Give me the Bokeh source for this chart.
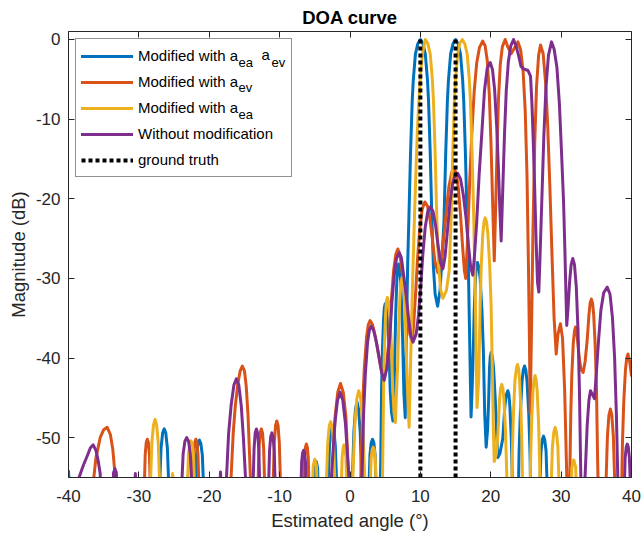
from bokeh.plotting import figure
from bokeh.models import Range1d, LinearAxis, FixedTicker, Legend, LegendItem, Label
from bokeh.core.properties import value
from bokeh.embed import file_html
from bokeh.resources import INLINE

# ---------------- data ----------------
x_ticks = [-40, -30, -20, -10, 0, 10, 20, 30, 40]
y_ticks = [-50, -40, -30, -20, -10, 0]
x_limits = (-40, 40)
y_limits = (-55, 1)

gt_angles = [10, 15]          # ground truth DOAs (deg)
gt_top = [0, 0]               # dB
gt_bottom = [-55, -55]

# (angle deg, magnitude dB) samples of each curve
mod_both = [
    (-40, -54.2), (-39.8, -57), (-39.6, -62),
    (-27.3, -62), (-26.85, -51.3), (-26.62, -49.4), (-26.4, -48.9), (-26.18, -49.4), (-25.95, -51.3), (-25.5, -62),
    (-22.25, -62), (-21.82, -52.2), (-21.6, -50.7), (-21.4, -50.3), (-21.2, -50.7), (-20.98, -52.2), (-20.55, -62),
    (-5.25, -62), (-5.0, -53.8), (-4.8, -53.0), (-4.6, -53.8), (-4.35, -62),
    (-3.35, -62), (-2.92, -51.1), (-2.71, -49.1), (-2.5, -48.5), (-2.29, -49.1), (-2.08, -51.1), (-1.65, -62),
    (0.1, -62), (0.55, -49.3), (0.78, -46.4), (1.0, -45.5), (1.22, -46.4), (1.45, -49.3), (1.9, -62),
    (2.48, -62), (2.84, -52.1), (3.02, -50.6), (3.2, -50.2), (3.38, -50.6), (3.56, -52.1), (3.92, -62),
    (4.2, -62), (4.36, -53.2), (4.48, -44.2), (4.6, -39.2), (4.76, -35.2), (4.88, -33.7), (5.0, -33.2),
    (5.17, -33.7), (5.33, -35.2), (5.55, -39.2), (5.72, -44.2), (5.9, -46.8), (6.1, -47.9),
    (6.25, -44.5), (6.38, -39.2), (6.5, -34.2), (6.66, -30.2), (6.78, -28.7), (6.9, -28.2),
    (7.04, -28.7), (7.19, -30.2), (7.38, -34.2), (7.52, -39.2), (7.66, -44.5), (7.85, -47.5),
    (8.0, -38), (8.2, -28), (8.36, -22.7), (8.6, -14.3), (8.84, -7.7), (9.0, -5.0), (9.3, -1.8), (9.65, -0.5), (10.0, 0),
    (10.35, -0.5), (10.7, -1.8), (11.0, -5.0), (11.16, -7.7), (11.4, -14.3), (11.64, -22.7), (11.85, -28.5), (12.1, -32),
    (12.45, -33.5), (12.8, -31.5), (13.1, -27), (13.36, -22.7), (13.6, -14.3), (13.84, -7.7), (14.0, -5.0), (14.3, -1.8),
    (14.65, -0.5), (15.0, 0), (15.35, -0.5), (15.7, -1.8), (16.0, -5.0), (16.16, -7.7), (16.4, -14.3), (16.64, -22.7),
    (16.85, -30), (17.05, -40), (17.2, -47.4),
    (17.35, -44), (17.52, -39), (17.65, -34), (17.83, -30), (17.97, -28.5), (18.1, -28), (18.3, -28.5), (18.49, -30),
    (18.75, -34), (18.95, -39), (19.14, -47), (19.35, -51.2),
    (19.55, -49), (19.7, -45.3), (19.82, -41.3), (19.93, -39.8), (20.05, -39.3), (20.22, -39.8), (20.4, -41.3),
    (20.65, -45.3), (20.85, -49.5), (21.0, -52.5),
    (21.3, -52), (21.71, -50.1), (22.0, -46.1), (22.21, -44.6), (22.43, -44.1), (22.58, -44.6), (22.72, -46.1),
    (22.92, -50.1), (23.06, -55.1), (23.2, -62),
    (23.6, -62), (23.84, -61), (24.02, -52), (24.2, -47), (24.44, -43), (24.62, -41.5), (24.8, -41), (24.98, -41.5),
    (25.16, -43), (25.4, -47), (25.58, -52), (25.76, -61), (26.0, -62),
    (26.78, -62), (27.14, -51.7), (27.32, -50.3), (27.5, -49.8), (27.68, -50.3), (27.86, -51.7), (28.22, -62),
    (40, -62),
]

mod_ev = [
    (-40, -62),
    (-36.7, -62), (-36.4, -55), (-36.1, -52.5), (-35.85, -51.5), (-35.5, -50), (-35.0, -49), (-34.5, -48.7),
    (-34.05, -49.6), (-33.7, -51.5), (-33.45, -54), (-33.2, -62),
    (-29.4, -62), (-29.1, -52.1), (-28.95, -50.6), (-28.8, -50.2), (-28.65, -50.6), (-28.5, -52.1), (-28.2, -62),
    (-22.5, -62), (-22.2, -52.1), (-22.05, -50.6), (-21.9, -50.2), (-21.75, -50.6), (-21.6, -52.1), (-21.3, -62),
    (-17.1, -62), (-16.9, -55), (-16.6, -49.5), (-16.3, -46), (-15.95, -43.3), (-15.6, -41.6), (-15.3, -41.0),
    (-15.0, -41.6), (-14.75, -43.5), (-14.5, -47), (-14.3, -51.5), (-14.15, -55), (-14.0, -62),
    (-13.26, -62), (-12.93, -51.3), (-12.77, -49.4), (-12.6, -48.9), (-12.43, -49.4), (-12.27, -51.3), (-11.94, -62),
    (-11.12, -62), (-10.76, -50.7), (-10.58, -48.5), (-10.4, -47.9), (-10.22, -48.5), (-10.04, -50.7), (-9.68, -62),
    (-6.74, -62), (-6.47, -52.5), (-6.33, -51.2), (-6.2, -50.8), (-6.07, -51.2), (-5.93, -52.5), (-5.66, -62),
    (-2.9, -62), (-2.5, -55), (-2.13, -47.5), (-1.74, -44.3), (-1.35, -43.2), (-0.96, -44.3), (-0.57, -47.5),
    (-0.2, -55), (0.1, -62),
    (1.2, -62), (1.53, -55.3), (1.78, -46.3), (2.03, -41.3), (2.36, -37.3), (2.6, -35.8), (2.85, -35.3),
    (3.2, -35.8), (3.6, -37.3), (4.0, -39.3), (4.4, -41.3), (4.8, -42.7),
    (5.2, -41), (5.6, -37), (5.9, -32.5), (6.2, -29), (6.5, -27), (6.8, -26.3), (7.1, -27), (7.45, -29.5),
    (7.8, -32), (8.2, -35), (8.5, -37), (8.85, -38),
    (9.1, -35), (9.35, -31.5), (9.6, -27.5), (9.9, -24), (10.25, -21.3), (10.63, -20.4), (11.0, -20.9),
    (11.35, -22.5), (11.7, -25), (12.05, -27.8), (12.5, -29.3),
    (12.9, -28), (13.3, -25), (13.7, -21.5), (14.05, -18.5), (14.45, -16.7), (14.8, -16.2), (15.1, -16.8),
    (15.4, -18.7), (15.7, -22), (16.0, -26), (16.25, -29), (16.45, -30),
    (16.7, -25), (17.0, -18), (17.3, -12), (17.65, -6.5), (18.0, -3), (18.4, -1), (18.85, -0.2), (19.2, -0.8),
    (19.5, -2.6), (19.8, -7), (20.05, -13.5), (20.3, -21.5), (20.5, -27.8),
    (20.7, -21), (20.9, -13.5), (21.1, -7.5), (21.35, -3.2), (21.65, -0.9), (22.05, 0), (22.45, -1.0),
    (22.9, -1.8), (23.35, -1.1), (23.85, -0.3), (24.25, -1.3), (24.6, -4), (24.9, -9), (25.15, -17),
    (25.35, -28), (25.5, -38), (25.6, -47),
    (25.8, -36), (26.0, -24), (26.25, -13), (26.5, -6), (26.8, -2), (27.07, -0.7), (27.45, -1.8), (27.8, -5.5),
    (28.1, -11), (28.4, -18.5), (28.7, -27), (29.0, -35), (29.3, -39.5),
    (29.55, -37), (29.9, -35.7), (30.2, -37.5), (30.5, -44), (30.75, -53), (31.0, -62),
    (31.21, -56.1), (31.37, -47.1), (31.52, -42.1), (31.73, -38.1), (31.9, -36.6), (32.05, -36.1), (32.2, -36.6),
    (32.37, -38.1), (32.58, -40), (32.8, -41.3), (33.13, -41.8),
    (33.4, -40.5), (33.7, -37.8), (33.95, -34.6), (34.12, -33.1), (34.3, -32.6), (34.47, -33.1), (34.63, -34.6),
    (34.85, -38.6), (35.02, -43.6), (35.18, -52.6), (35.4, -62),
    (36.16, -62), (36.58, -49.8), (36.79, -47.2), (37.0, -46.4), (37.21, -47.2), (37.42, -49.8), (37.84, -62),
    (38.3, -62), (38.54, -59), (38.72, -50.5), (38.9, -45.5), (39.14, -41.5), (39.32, -40), (39.5, -39.5),
    (39.75, -40.5), (40.0, -42.2),
]

mod_ea = [
    (-40, -62),
    (-28.6, -62), (-28.15, -50.6), (-27.92, -48.4), (-27.7, -47.7), (-27.48, -48.4), (-27.25, -50.6), (-26.8, -62),
    (-25.45, -62), (-25.2, -54.5), (-24.95, -62),
    (-23.32, -62), (-22.96, -52.2), (-22.78, -50.8), (-22.6, -50.4), (-22.42, -50.8), (-22.24, -52.2), (-21.88, -62),
    (-5.48, -62), (-5.24, -53.6), (-5.0, -52.7), (-4.76, -53.6), (-4.52, -62),
    (-3.6, -62), (-3.17, -50.8), (-2.96, -48.6), (-2.75, -48.0), (-2.54, -48.6), (-2.33, -50.8), (-1.9, -62),
    (-1.4, -62), (-1.12, -52.5), (-0.98, -51.3), (-0.85, -50.9), (-0.72, -51.3), (-0.58, -52.5), (-0.3, -62),
    (0.1, -62), (0.68, -48.5), (0.97, -45.1), (1.25, -44.1), (1.53, -45.1), (1.82, -48.5), (2.4, -62),
    (2.7, -62), (3.0, -52.7), (3.15, -51.5), (3.3, -51.2), (3.45, -51.5), (3.6, -52.7), (3.9, -62),
    (4.5, -62), (4.66, -52.4), (4.78, -43.4), (4.9, -38.4), (5.06, -34.4), (5.18, -32.9), (5.3, -32.4),
    (5.47, -32.9), (5.65, -34.4), (5.88, -38.4), (6.05, -43.4), (6.25, -46.8), (6.45, -48.1),
    (6.6, -44.5), (6.78, -40.9), (6.93, -35.9), (7.12, -31.9), (7.26, -30.4), (7.4, -29.9), (7.55, -30.4),
    (7.7, -31.9), (7.9, -35.9), (8.05, -40.9), (8.22, -45), (8.4, -48.7),
    (8.6, -41), (8.85, -32), (9.1, -24), (9.35, -17), (9.57, -11.5), (9.8, -7.7), (10.05, -4), (10.35, -1.5),
    (10.7, 0), (11.05, -0.5), (11.4, -1.8), (11.7, -5), (11.86, -7.7), (12.1, -14.3), (12.34, -22.7),
    (12.6, -28.5), (12.9, -31.5), (13.2, -32.5), (13.7, -31.5), (14.1, -29), (14.36, -22.7), (14.6, -14.3),
    (14.84, -7.7), (15.0, -5), (15.3, -1.8), (15.6, -0.5), (15.95, 0), (16.3, -0.5), (16.65, -1.8), (16.95, -5),
    (17.11, -7.7), (17.35, -14.3), (17.59, -22.7), (17.8, -32), (17.95, -41), (18.05, -46.2),
    (18.3, -42.4), (18.49, -33.4), (18.65, -28.4), (18.87, -24.4), (19.04, -22.9), (19.2, -22.4), (19.4, -22.9),
    (19.59, -24.4), (19.85, -28.4), (20.05, -33.4), (20.24, -42.4), (20.37, -49), (20.5, -53),
    (20.8, -52), (21.03, -49.3), (21.24, -45.3), (21.4, -43.8), (21.57, -43.3), (21.72, -43.8), (21.88, -45.3),
    (22.1, -49.3), (22.27, -54.3), (22.43, -62),
    (22.7, -62), (22.91, -60.8), (23.07, -51.8), (23.23, -46.8), (23.44, -42.8), (23.65, -41.3), (23.8, -40.8),
    (23.95, -41.3), (24.1, -42.8), (24.3, -46.8), (24.45, -51.8), (24.6, -60.8), (24.8, -62),
    (25.5, -62), (25.65, -53.2), (25.8, -48.2), (26.0, -44.2), (26.15, -42.7), (26.3, -42.2), (26.45, -42.7),
    (26.6, -44.2), (26.8, -48.2), (26.95, -53.2), (27.1, -62),
    (28.37, -62), (28.76, -51.2), (28.96, -49.3), (29.15, -48.7), (29.34, -49.3), (29.54, -51.2), (29.93, -62),
    (31.26, -62), (31.53, -53.7), (31.8, -52.8), (32.07, -53.7), (32.34, -62),
    (40, -62),
]

no_mod = [
    (-40, -62),
    (-38.8, -62), (-38.5, -55), (-37.9, -53.5), (-37.3, -52.2), (-36.9, -51.3), (-36.5, -50.9), (-36.1, -51.6),
    (-35.8, -52.8), (-35.5, -54.5), (-35.2, -62),
    (-33.85, -62), (-33.6, -54.4), (-33.4, -53.9), (-33.2, -54.4), (-32.95, -62),
    (-30.8, -62), (-30.5, -54.5), (-30.2, -62),
    (-24.22, -62), (-23.71, -52), (-23.46, -50.45), (-23.2, -50), (-22.94, -50.45), (-22.69, -52), (-22.18, -62),
    (-18.75, -62), (-18.4, -54.3), (-18.05, -62),
    (-17.8, -62), (-17.55, -55), (-17.25, -49.5), (-16.9, -46), (-16.5, -43.4), (-16.15, -42.6), (-15.8, -43.4),
    (-15.45, -46), (-15.15, -50), (-14.85, -55), (-14.6, -62),
    (-13.96, -62), (-13.63, -51.3), (-13.47, -49.4), (-13.3, -48.9), (-13.13, -49.4), (-12.97, -51.3), (-12.64, -62),
    (-11.76, -62), (-11.43, -51.6), (-11.27, -49.9), (-11.1, -49.4), (-10.93, -49.9), (-10.77, -51.6), (-10.44, -62),
    (-7.14, -62), (-6.87, -53), (-6.73, -51.9), (-6.6, -51.6), (-6.47, -51.9), (-6.33, -53), (-6.06, -62),
    (-2.9, -62), (-2.65, -55), (-2.15, -48.2), (-1.78, -45.3), (-1.4, -44.3), (-1.02, -45.3), (-0.65, -48.2),
    (-0.15, -55), (0.1, -62),
    (1.35, -62), (1.68, -56), (1.93, -47), (2.18, -42), (2.5, -38), (2.75, -36.5), (3.0, -36.0), (3.35, -36.5),
    (3.75, -38), (4.15, -40), (4.5, -41.8), (4.85, -42.8),
    (5.25, -41.2), (5.65, -37.5), (5.95, -33), (6.3, -29.5), (6.6, -27.5), (7.0, -26.8), (7.3, -27.4),
    (7.65, -29.8), (8.0, -32.3), (8.35, -35.2), (8.65, -37.2), (8.95, -38),
    (9.4, -37), (9.75, -34.5), (10.05, -31), (10.35, -27), (10.7, -23.5), (11.05, -21.6), (11.44, -21.0),
    (11.8, -21.6), (12.15, -23.3), (12.5, -25.8), (12.85, -28), (13.2, -28.8),
    (13.5, -27.3), (13.85, -24), (14.2, -20.5), (14.6, -18), (14.95, -17), (15.3, -16.8), (15.7, -17.5),
    (16.1, -19.5), (16.5, -22.5), (16.85, -26), (17.15, -28.6), (17.45, -29.6),
    (17.7, -27), (18.0, -23), (18.35, -17), (18.75, -11.5), (19.1, -6.5), (19.5, -3.6), (19.92, -2.9),
    (20.25, -3.8), (20.55, -6.3), (20.85, -11), (21.1, -16.5), (21.3, -21.5), (21.48, -25.3),
    (21.7, -19), (21.95, -12), (22.2, -6.5), (22.5, -2.8), (22.85, -0.8), (23.23, 0), (23.6, -0.8), (24.0, -2.2),
    (24.3, -3.4), (24.65, -3.7), (25.0, -3.8), (25.3, -3.9), (25.65, -4.6), (25.85, -8), (26.05, -13),
    (26.25, -19), (26.45, -25.5), (26.65, -30.5), (26.83, -31.7),
    (27.05, -26), (27.3, -19), (27.55, -12), (27.85, -6), (28.2, -2), (28.63, -0.3), (29.0, -1.2), (29.4, -3.5),
    (29.75, -8), (30.05, -14), (30.35, -20.5), (30.55, -27), (30.7, -32.5), (30.8, -35.9),
    (31.0, -33.5), (31.2, -30.5), (31.42, -28.3), (31.66, -27.5), (31.9, -28.3), (32.15, -31), (32.4, -36.5),
    (32.6, -44), (32.8, -55), (32.95, -62),
    (33.1, -62), (33.4, -55), (33.7, -48.5), (33.95, -45.3), (34.17, -44.1), (34.45, -44.6), (34.74, -45.1),
    (35.0, -42), (35.3, -38), (35.65, -34), (36.05, -31.8), (36.55, -31.1), (36.95, -32), (37.3, -35),
    (37.6, -40), (37.85, -47), (38.05, -55), (38.2, -62),
    (38.8, -62), (39.1, -52.5), (39.25, -51.2), (39.4, -50.8), (39.55, -51.2), (39.7, -52.5), (40.0, -60),
]

series = [
    ("Modified with a", mod_both, "#0072BD"),
    ("Modified with a", mod_ev, "#D95319"),
    ("Modified with a", mod_ea, "#EDB120"),
    ("Without modification", no_mod, "#7E2F8E"),
]
gt_label = "ground truth"

# ---------------- figure ----------------
FONT = "Liberation Sans"
AX = "#262626"

p = figure(width=642, height=536, output_backend="svg", toolbar_location=None,
           x_range=Range1d(*x_limits), y_range=Range1d(*y_limits),
           min_border_left=68, min_border_right=11, min_border_top=31, min_border_bottom=59,
           background_fill_color="white", border_fill_color="white")
p.outline_line_color = None
p.xgrid.visible = False
p.ygrid.visible = False

p.title.text = "DOA curve"
p.title.align = "center"
p.title.text_font = FONT
p.title.text_font_size = "18.5px"
p.title.text_font_style = "bold"
p.title.text_color = "#000000"
p.title.standoff = 7

def style_axis(ax, ticks, show_labels):
    ax.ticker = FixedTicker(ticks=ticks)
    ax.major_tick_in = 6
    ax.major_tick_out = 0
    ax.minor_tick_in = 0
    ax.minor_tick_out = 0
    ax.axis_line_color = AX
    ax.axis_line_width = 1
    ax.major_tick_line_color = AX
    ax.major_tick_line_width = 1
    ax.major_label_text_font = FONT
    ax.axis_label_text_font = FONT
    ax.axis_label_text_font_style = "normal"
    ax.axis_label_text_color = AX
    ax.axis_label_text_font_size = "18.5px"
    if show_labels:
        ax.major_label_text_font_size = "17px"
        ax.major_label_text_color = AX
        ax.major_label_overrides = {t: str(t) for t in ticks}
    else:
        ax.major_label_text_font_size = "1px"
        ax.major_label_text_color = None
        ax.major_label_standoff = 0

xa = p.below[0]
ya = p.left[0]
style_axis(xa, x_ticks, True)
style_axis(ya, y_ticks, True)
xa.axis_label = "Estimated angle (\u00b0)"
ya.axis_label = "Magnitude (dB)"
xa.major_label_standoff = 12
xa.axis_label_standoff = 5
ya.major_label_standoff = 8
ya.axis_label_standoff = 4

top = LinearAxis()
style_axis(top, x_ticks, False)
p.add_layout(top, "above")
right = LinearAxis()
style_axis(right, y_ticks, False)
p.add_layout(right, "right")

renderers = []
for name, pts, color in series:
    xs = [a for a, m in pts]
    ys = [m for a, m in pts]
    r = p.line(xs, ys, line_color=color, line_width=3, line_join="round", line_cap="round")
    renderers.append(r)

r_gt = p.segment(x0=gt_angles, y0=gt_bottom, x1=gt_angles, y1=gt_top,
                 line_color="black", line_width=4, line_dash="4 3", line_cap="butt")

items = [LegendItem(label=value(name), renderers=[r]) for (name, _, _), r in zip(series, renderers)]
items.append(LegendItem(label=value(gt_label), renderers=[r_gt]))
legend = Legend(items=items, location="top_left", margin=7, padding=5, spacing=3,
                label_height=23, glyph_height=20, glyph_width=52, label_standoff=5, label_width=148,
                label_text_font=FONT, label_text_font_size="15px", label_text_color="#000000",
                label_text_baseline="middle",
                border_line_color=AX, border_line_width=1, background_fill_color="white",
                background_fill_alpha=0.0)
p.add_layout(legend)

# subscripts of the legend texts (a_ea a_ev, a_ev, a_ea)
sub_texts = [("ea", -15.84, -2.83, "13px"), ("a", -12.58, -1.95, "15px"), ("ev", -11.15, -2.83, "13px"),
             ("ev", -15.84, -6.09, "13px"), ("ea", -15.84, -9.36, "13px")]
for t, x, y, fs in sub_texts:
    p.add_layout(Label(x=x, y=y, text=t, text_font=FONT, text_font_size=fs, text_color="#000000",
                       text_baseline="middle", text_align="left", level="overlay"))

open("out.html", "w").write(file_html(p, INLINE))
